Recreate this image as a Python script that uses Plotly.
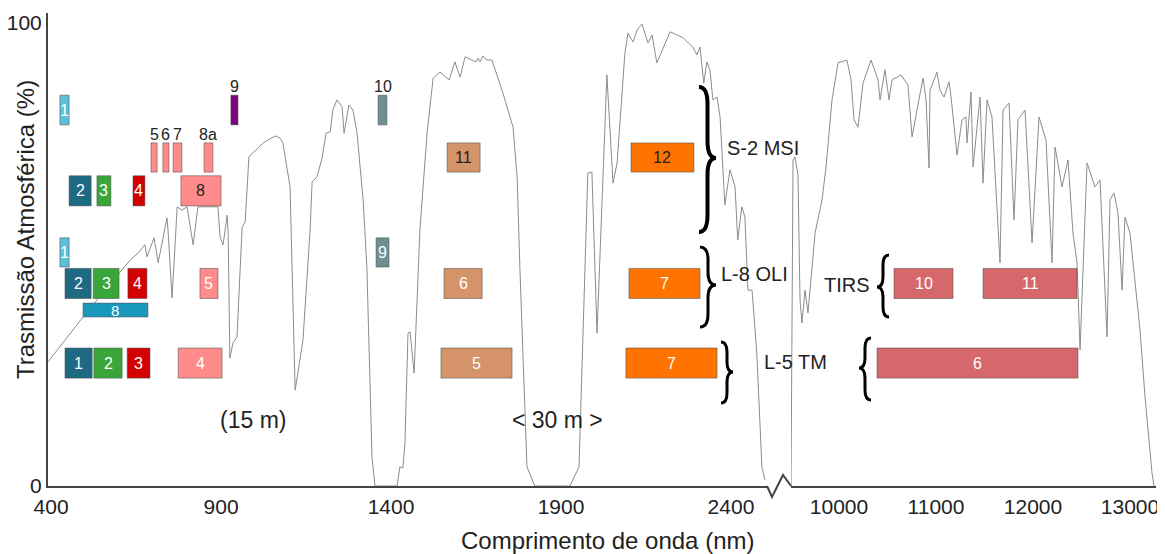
import plotly.graph_objects as go

# ---------------- DATA ----------------
# Atmospheric transmission (%) - reflective segment (nm)
VNIR_NM = [391, 494, 603, 626, 638, 656, 676, 682, 703, 715, 741, 744, 756, 771, 785, 800, 818, 832,
           891, 897, 906, 918, 921, 926, 935, 947, 962, 971, 982, 1024, 1059, 1073, 1082, 1103, 1118,
           1141, 1162, 1168, 1182, 1197, 1209, 1221, 1229, 1241, 1256, 1262, 1276, 1288, 1300, 1318,
           1329, 1344, 1353, 1418, 1426, 1435, 1441, 1450, 1456, 1468, 1485, 1506, 1524, 1544, 1571,
           1588, 1603, 1618, 1650, 1656, 1662, 1671, 1682, 1697, 1729, 1759, 1771, 1779, 1800, 1823,
           1926, 1953, 1959, 1971, 1979, 1991, 2006, 2035, 2053, 2065, 2088, 2097, 2112, 2124, 2138,
           2156, 2168, 2182, 2221, 2259, 2288, 2300, 2309, 2320, 2329, 2338, 2347, 2359, 2368, 2382,
           2397, 2412, 2420, 2432, 2441, 2450, 2462, 2476, 2491, 2500]
VNIR_T = [26.8, 36.5, 46.2, 48.2, 49.2, 50.3, 52.1, 49.5, 53.6, 48.2, 57.9, 55.3, 40.6, 60.3, 59.6, 60.3, 52.1, 60.3,
          60.3, 53.8, 52.1, 58.5, 54.6, 27.6, 30.9, 32.2, 55.9, 57.0, 71.1, 74.1, 75.6, 75.2, 74.1, 64.6, 20.7,
          31.5, 55.3, 65.7, 66.7, 70.8, 76.2, 76.5, 81.2, 83.4, 81.9, 76.2, 82.3, 81.2, 76.2, 61.8,
          47.3, 6.3, 0, 0, 4.1, 3.9, 9.3, 33.0, 33.3, 24.4, 55.3, 76.2, 88.1, 89.4, 87.7,
          91.6, 88.3, 92.7, 91.6, 92.4, 91.6, 92.9, 92.0, 92.0, 84.9, 77.5, 66.7, 47.3, 4.1, 0,
          0, 4.1, 19.2, 48.2, 67.6, 67.8, 33.0, 88.8, 65.4, 69.8, 93.5, 97.8, 95.9, 98.5, 99.8,
          95.7, 97.4, 91.4, 98.1, 96.8, 94.8, 93.1, 94.8, 87.0, 91.6, 89.9, 83.4, 84.0, 79.7, 60.7,
          68.3, 64.6, 53.1, 60.3, 58.1, 42.3, 42.3, 28.7, 4.1, 1.3]

# Atmospheric transmission (%) - thermal segment (nm)
TIR_NM = [9505, 9526, 9546, 9577, 9598, 9618, 9649, 9680, 9701, 9753, 9825, 9866, 9928, 9990, 10082,
          10124, 10155, 10196, 10247, 10330, 10402, 10423, 10474, 10516, 10546, 10639, 10711, 10753,
          10804, 10866, 10897, 10928, 10938, 11010, 11041, 11083, 11134, 11155, 11217, 11268, 11309,
          11320, 11361, 11382, 11454, 11485, 11526, 11577, 11660, 11691, 11753, 11804, 11845, 11918,
          11990, 12062, 12134, 12196, 12227, 12299, 12361, 12412, 12454, 12485, 12557, 12639, 12691,
          12763, 12794, 12835, 12876, 12918, 12948, 13000, 13103, 13155, 13227, 13248]
TIR_T = [0, 70.4, 71.1, 67.2, 40.2, 35.2, 42.3, 37.4, 42.3, 54.6, 61.8, 68.9, 83.4, 91.4, 92.0,
         87.7, 79.1, 77.5, 87.0, 92.0, 87.7, 83.4, 89.9, 83.4, 87.7, 88.8, 86.6, 75.4,
         81.2, 88.1, 83.4, 68.7, 85.5, 89.4, 85.5, 84.0, 87.3, 84.0, 71.5, 79.1, 79.7,
         74.1, 85.1, 68.9, 84.0, 65.4, 83.4, 79.7, 48.2, 81.2, 82.7, 57.5, 79.1, 81.2,
         52.5, 79.7, 74.7, 48.2, 73.2, 64.6, 70.4, 54.6, 48.2, 29.4, 69.8, 64.6, 66.1,
         32.2, 61.8, 63.3, 59.0, 42.3, 58.1, 54.6, 33.7, 19.2, 2.8, 0]

# Sentinel-2 MSI bands (nm)
S2_LABELS = ["1", "2", "3", "4", "5", "6", "7", "8", "8a", "9", "10", "11", "12"]
S2_START = [426, 453, 535, 641, 694, 729, 759, 782, 850, 929, 1362, 1565, 2106]
S2_END = [453, 518, 576, 676, 712, 747, 785, 900, 876, 950, 1388, 1662, 2291]

# Landsat-8 OLI bands (nm)
L8_LABELS = ["1", "2", "3", "4", "5", "6", "7", "8", "9"]
L8_START = [426, 441, 524, 626, 838, 1556, 2100, 494, 1356]
L8_END = [453, 518, 600, 682, 891, 1668, 2309, 685, 1394]

# Landsat-8 TIRS bands (nm)
TIRS_LABELS = ["10", "11"]
TIRS_START = [10567, 11485]
TIRS_END = [11175, 12454]

# Landsat-5 TM bands (nm)
L5_LABELS = ["1", "2", "3", "4", "5", "7", "6"]
L5_START = [441, 526, 624, 774, 1547, 2091, 10392]
L5_END = [521, 609, 691, 903, 1756, 2359, 12464]

X_TICKS_L = [400, 900, 1400, 1900, 2400]
X_TICKS_R = [10000, 11000, 12000, 13000]
Y_TICKS = [0, 100]

# ---------------- STYLE / LAYOUT ----------------
PAGE_W, PAGE_H = 1165, 554
OFF = 8  # default body margin of the html page
W, H = PAGE_W - OFF, PAGE_H - OFF
# plot-area edges in page pixels
PL, PT, PR, PB = 48, 13, 1156, 486
FONT = "Liberation Sans, Arial, sans-serif"
TXT = "#222222"

C_LBLUE = "#5DBFD8"
C_TEAL = "#1D6A82"
C_GREEN = "#3AA63A"
C_RED = "#D20000"
C_PINK = "#FF8B8B"
C_PURPLE = "#7E007E"
C_GRAY = "#6E8E93"
C_TAN = "#D5936A"
C_ORANGE = "#FF7300"
C_PAN = "#1898BD"
C_THERM = "#D6676A"

TIER = {
    "s2_top": (78.0, 84.4), "s2_mid": (67.8, 74.1), "s2_low": (60.5, 67.0),
    "l8_top": (47.3, 53.6), "l8_mid": (40.5, 47.0), "l8_pan": (36.5, 39.5),
    "l5": (23.3, 29.8),
}

S2_STYLE = {  # tier, color, label color, label above?
    "1": ("s2_top", C_LBLUE, "white", False), "2": ("s2_low", C_TEAL, "white", False),
    "3": ("s2_low", C_GREEN, "white", False), "4": ("s2_low", C_RED, "white", False),
    "5": ("s2_mid", C_PINK, TXT, True), "6": ("s2_mid", C_PINK, TXT, True),
    "7": ("s2_mid", C_PINK, TXT, True), "8": ("s2_low", C_PINK, TXT, False),
    "8a": ("s2_mid", C_PINK, TXT, True), "9": ("s2_top", C_PURPLE, TXT, True),
    "10": ("s2_top", C_GRAY, TXT, True), "11": ("s2_mid", C_TAN, TXT, False),
    "12": ("s2_mid", C_ORANGE, TXT, False),
}
L8_STYLE = {
    "1": ("l8_top", C_LBLUE), "2": ("l8_mid", C_TEAL), "3": ("l8_mid", C_GREEN),
    "4": ("l8_mid", C_RED), "5": ("l8_mid", C_PINK), "6": ("l8_mid", C_TAN),
    "7": ("l8_mid", C_ORANGE), "8": ("l8_pan", C_PAN), "9": ("l8_top", C_GRAY),
}
L5_COLOR = {"1": C_TEAL, "2": C_GREEN, "3": C_RED, "4": C_PINK, "5": C_TAN, "7": C_ORANGE, "6": C_THERM}

LEFT_RANGE = [391, 2506]
RIGHT_RANGE = [9505, 13268]
Y_RANGE = [0, (PB - PT) / 4.63]


def px2paper(px, py):
    return (px - PL) / (PR - PL), (PB - py) / (PB - PT)


BREAK_L = px2paper(767, PB)[0]
BREAK_R = px2paper(791, PB)[0]

fig = go.Figure()
fig.add_trace(go.Scatter(x=VNIR_NM, y=VNIR_T, mode="lines", xaxis="x", yaxis="y",
                         line=dict(color="#8c8c8c", width=1), hoverinfo="skip", showlegend=False))
fig.add_trace(go.Scatter(x=TIR_NM, y=TIR_T, mode="lines", xaxis="x2", yaxis="y",
                         line=dict(color="#8c8c8c", width=1), hoverinfo="skip", showlegend=False))

shapes = []
annots = []
BOX_LINE = dict(color="rgba(80,80,80,0.55)", width=1)


def add_box(xref, x0, x1, y0, y1, color, label, lcolor, above=False, size=16):
    shapes.append(dict(type="rect", xref=xref, yref="y", x0=x0, x1=x1, y0=y0, y1=y1,
                       fillcolor=color, line=BOX_LINE, layer="above"))
    if above:
        annots.append(dict(x=(x0 + x1) / 2, y=y1 + 1.9, xref=xref, yref="y", text=label,
                           showarrow=False, yanchor="middle", font=dict(size=size, color=lcolor, family=FONT)))
    else:
        annots.append(dict(x=(x0 + x1) / 2, y=(y0 + y1) / 2, xref=xref, yref="y", text=label,
                           showarrow=False, yanchor="middle", font=dict(size=size, color=lcolor, family=FONT)))


for lab, a, b in zip(S2_LABELS, S2_START, S2_END):
    tier, col, lcol, above = S2_STYLE[lab]
    y0, y1 = TIER[tier]
    add_box("x", a, b, y0, y1, col, lab, lcol, above)

for lab, a, b in zip(L8_LABELS, L8_START, L8_END):
    tier, col = L8_STYLE[lab]
    y0, y1 = TIER[tier]
    add_box("x", a, b, y0, y1, col, lab, "white", size=15 if lab == "8" else 16)

for lab, a, b in zip(TIRS_LABELS, TIRS_START, TIRS_END):
    y0, y1 = TIER["l8_mid"]
    add_box("x2", a, b, y0, y1, C_THERM, lab, "white")

for lab, a, b in zip(L5_LABELS, L5_START, L5_END):
    y0, y1 = TIER["l5"]
    add_box("x2" if a > 5000 else "x", a, b, y0, y1, L5_COLOR[lab], lab, "white")


def brace(x0, x1, ya, yb, ym, width):
    xm = (x0 + x1) / 2
    r = min(abs(x1 - x0) * 1.0, (ym - ya) / 3, (yb - ym) / 3)
    pts = [("M", [(x0, ya)]), ("Q", [(xm, ya), (xm, ya + r)]), ("L", [(xm, ym - r)]),
           ("Q", [(xm, ym), (x1, ym)]), ("Q", [(xm, ym), (xm, ym + r)]), ("L", [(xm, yb - r)]),
           ("Q", [(xm, yb), (x0, yb)])]
    parts = []
    for cmd, pp in pts:
        coords = " ".join("%.5f,%.5f" % px2paper(px, py) for px, py in pp)
        parts.append(cmd + coords)
    shapes.append(dict(type="path", xref="paper", yref="paper", path=" ".join(parts),
                       line=dict(color="black", width=width), layer="above"))


brace(699, 716, 87, 232, 158, 4)
brace(700, 716, 247, 327, 285, 3)
brace(721, 733, 342, 403, 372, 3)
brace(889, 877, 255, 317, 287, 3)
brace(871, 859, 338, 400, 368, 3)

# axis break zigzag
z = [px2paper(767, 486), px2paper(772, 497), px2paper(783, 475), px2paper(791, 486)]
shapes.append(dict(type="path", xref="paper", yref="paper",
                   path="M%.5f,%.5f L%.5f,%.5f L%.5f,%.5f L%.5f,%.5f" % (z[0] + z[1] + z[2] + z[3]),
                   line=dict(color="#444444", width=2)))


def text(x, y, s, xref="x", xanchor="center", size=21):
    annots.append(dict(x=x, y=y, xref=xref, yref="y", text=s, showarrow=False, xanchor=xanchor,
                       yanchor="middle", font=dict(size=size, color=TXT, family=FONT)))


text(994, 14.3, "(15 m)", size=23)
text(1891, 14.3, "&lt; 30 m &gt;", size=23)
text(2382, 73.0, "S-2 MSI", xanchor="left", size=20)
text(2365, 45.8, "L-8 OLI", xanchor="left", size=20)
text(2491, 26.8, "L-5 TM", xanchor="left", size=20)
text(10345, 43.4, "TIRS", xref="x2", xanchor="right", size=20)

# axis titles
xt = px2paper(607, 540)
annots.append(dict(x=xt[0], y=xt[1], xref="paper", yref="paper", text="Comprimento de onda (nm)",
                   showarrow=False, xanchor="center", yanchor="middle",
                   font=dict(size=24, color=TXT, family=FONT)))
yt = px2paper(25, 230)
annots.append(dict(x=yt[0], y=yt[1], xref="paper", yref="paper", text="Trasmissão Atmosférica (%)",
                   showarrow=False, textangle=-90, xanchor="center", yanchor="middle",
                   font=dict(size=24, color=TXT, family=FONT)))

axis_common = dict(showline=True, linecolor="#444444", linewidth=2, showgrid=False, zeroline=False,
                   ticks="outside", ticklen=1, tickcolor="rgba(0,0,0,0)", automargin=False,
                   tickfont=dict(size=21, color=TXT, family=FONT), anchor="y", fixedrange=True)

fig.update_layout(
    template="none",
    width=W, height=H, autosize=False,
    margin=dict(l=PL - OFF, r=W - (PR - OFF), t=PT - OFF, b=H - (PB - OFF), pad=0),
    paper_bgcolor="white", plot_bgcolor="white",
    xaxis=dict(domain=[0, BREAK_L], range=LEFT_RANGE, tickvals=X_TICKS_L,
               ticktext=[str(v) for v in X_TICKS_L], **axis_common),
    xaxis2=dict(domain=[BREAK_R, 1], range=RIGHT_RANGE, tickvals=X_TICKS_R,
                ticktext=[str(v) for v in X_TICKS_R], **axis_common),
    yaxis=dict(domain=[0, 1], range=Y_RANGE, tickvals=Y_TICKS, ticktext=[str(v) for v in Y_TICKS],
               showline=True, linecolor="#444444", linewidth=2, showgrid=False, zeroline=False,
               ticks="", automargin=False, tickfont=dict(size=21, color=TXT, family=FONT), fixedrange=True),
    shapes=shapes, annotations=annots, showlegend=False,
)

fig.write_html("out.html")
